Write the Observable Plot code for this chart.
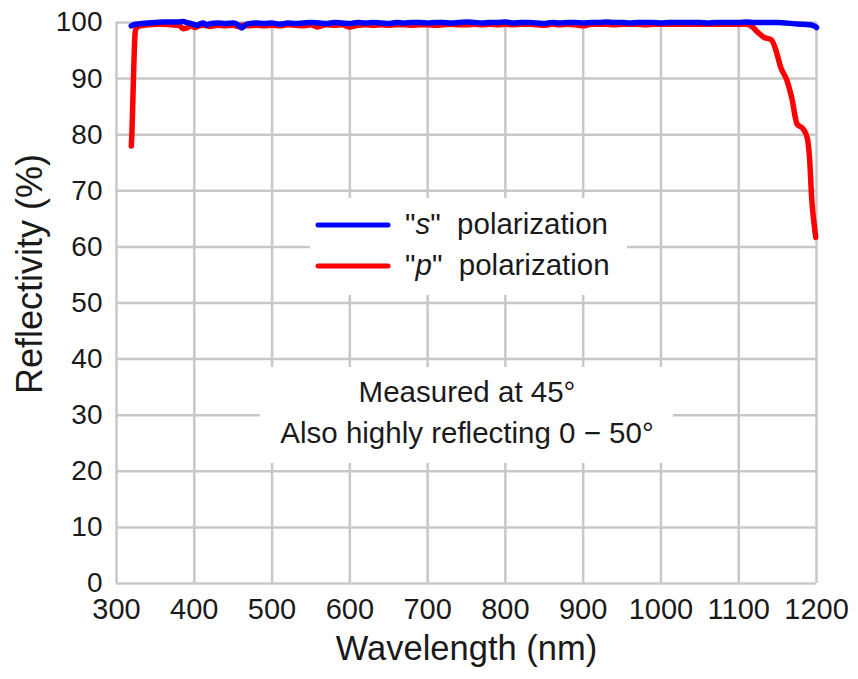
<!DOCTYPE html>
<html>
<head>
<meta charset="utf-8">
<script src="https://cdn.jsdelivr.net/npm/d3@7"></script>
<script src="https://cdn.jsdelivr.net/npm/@observablehq/plot@0.6"></script>
<style>
  html, body { margin: 0; padding: 0; background: #fff; }
  svg { display: block; }
</style>
</head>
<body>
<div id="chart"></div>
<script>
// ---- data ----
const sWavelength = [319,322,326,330,340,350,360,370,380,386,390,396,400,404,408,412,416,420,430,440,450,456,461,466,470,480,490,500,510,520,530,540,550,560,570,580,590,600,610,620,630,640,650,660,670,680,690,700,710,720,730,740,750,760,770,780,790,800,810,820,830,840,850,860,870,880,890,900,910,920,930,940,950,960,970,980,990,1000,1010,1020,1030,1040,1050,1060,1070,1080,1090,1100,1110,1120,1130,1140,1150,1160,1170,1180,1190,1195,1198,1200];
const sReflect = [99.4,99.6,99.7,99.8,99.9,100.0,100.1,100.1,100.1,100.2,100.0,99.8,99.6,99.5,99.8,99.9,99.5,99.8,99.9,99.8,99.9,99.6,99.0,99.6,99.8,99.9,99.8,99.9,99.7,99.9,99.8,99.9,100.0,99.9,99.8,100.0,99.9,99.8,100.0,99.9,100.0,99.9,99.8,100.0,99.9,100.0,100.0,99.9,100.0,100.0,99.9,100.0,100.1,100.0,99.9,100.0,100.0,100.1,99.9,100.0,100.0,99.9,99.8,100.0,99.9,100.0,100.0,99.9,100.0,100.0,100.1,100.0,100.0,99.9,100.0,100.0,100.0,99.9,100.0,100.0,100.0,100.0,100.0,99.9,100.0,100.0,100.0,100.0,100.1,100.0,100.0,100.0,100.0,99.9,99.8,99.7,99.6,99.5,99.3,99.1];

const pWavelength = [319,320,321,322,323,324,325,330,340,350,360,370,380,386,390,396,401,406,412,420,430,440,450,456,460,470,480,490,500,510,520,530,540,550,558,565,570,580,590,600,610,620,630,640,650,660,670,680,690,700,710,720,730,740,750,760,770,780,790,800,810,820,830,840,850,860,870,880,890,900,910,920,930,940,950,960,970,980,990,1000,1010,1020,1030,1040,1050,1060,1070,1080,1090,1100,1110,1117,1124,1132,1142,1148,1154,1162,1168,1175,1183,1188,1191,1194,1197,1199];
const pReflect = [78.0,81.0,86.0,91.0,95.5,98.2,98.9,99.4,99.6,99.7,99.7,99.6,99.5,98.9,99.0,99.4,99.1,99.4,99.5,99.3,99.5,99.4,99.5,99.3,99.5,99.4,99.5,99.4,99.5,99.4,99.6,99.5,99.4,99.6,99.2,99.5,99.6,99.5,99.6,99.2,99.5,99.6,99.5,99.6,99.5,99.6,99.6,99.5,99.6,99.6,99.5,99.6,99.7,99.6,99.6,99.7,99.6,99.7,99.6,99.7,99.6,99.7,99.7,99.6,99.5,99.7,99.6,99.7,99.6,99.4,99.7,99.7,99.7,99.6,99.7,99.7,99.7,99.6,99.7,99.7,99.7,99.7,99.7,99.7,99.7,99.7,99.7,99.7,99.7,99.7,99.7,99.3,98.3,97.4,96.9,95.0,92.0,89.7,86.7,81.9,81.0,79.5,76.0,68.3,64.0,61.7];

const xTicks = [300,400,500,600,700,800,900,1000,1100,1200];
const yTicks = [0,10,20,30,40,50,60,70,80,90,100];

const seriesNames = ["s", "p"];
const seriesColors = ["#0000ff", "#ff0000"];
const annotationLines = ["Measured at 45°", "Also highly reflecting 0 \u2212 50°"];
const xTitle = "Wavelength (nm)";
const yTitle = "Reflectivity (%)";

// ---- build ----
const sData = sWavelength.map((w, i) => ({w, r: sReflect[i]}));
const pData = pWavelength.map((w, i) => ({w, r: pReflect[i]}));

const FONT = "'Liberation Sans', Arial, Helvetica, sans-serif";
const gridStyle = {stroke: "#c8c8c8", strokeOpacity: 1, strokeWidth: 2.5};

const plot = Plot.plot({
  width: 858,
  height: 679,
  marginLeft: 116,
  marginRight: 42,
  marginTop: 22,
  marginBottom: 96,
  style: {fontFamily: FONT, fontSize: "29px", color: "#1a1a1a", background: "#fff", overflow: "visible"},
  x: {domain: [300, 1200]},
  y: {domain: [0, 100]},
  marks: [
    Plot.gridX(xTicks, gridStyle),
    Plot.gridY(yTicks, gridStyle),
    Plot.axisX(xTicks, {tickSize: 0, tickPadding: 15, label: null, fontSize: 29, tickFormat: d => String(d)}),
    Plot.axisY(yTicks, {tickSize: 0, tickPadding: 14, label: null, fontSize: 28}),
    Plot.text([xTitle], {frameAnchor: "bottom", dy: 76, fontSize: 34.5, fill: "#1a1a1a", textAnchor: "middle"}),
    Plot.text([yTitle], {frameAnchor: "left", dx: -86, dy: -29, rotate: -90, fontSize: 36, fill: "#1a1a1a", textAnchor: "middle"}),
    Plot.line(pData, {x: "w", y: "r", stroke: seriesColors[1], strokeWidth: 5.5, curve: "monotone-x", strokeLinecap: "round", strokeLinejoin: "round"}),
    Plot.line(sData, {x: "w", y: "r", stroke: seriesColors[0], strokeWidth: 5.5, curve: "monotone-x", strokeLinecap: "round", strokeLinejoin: "round"})
  ]
});

// legend + annotation (drawn over the grid)
const svg = d3.select(plot);
const layer = svg.append("g").attr("font-family", FONT).attr("fill", "#1a1a1a");

// legend box
const lg = {x: 310, y: 198, w: 317, h: 97, lineX1: 318, lineX2: 388, textX: 405, rowY: [225, 266]};
layer.append("rect").attr("x", lg.x).attr("y", lg.y).attr("width", lg.w).attr("height", lg.h).attr("fill", "#fff");
seriesNames.forEach((name, i) => {
  layer.append("line")
    .attr("x1", lg.lineX1).attr("x2", lg.lineX2)
    .attr("y1", lg.rowY[i]).attr("y2", lg.rowY[i])
    .attr("stroke", seriesColors[i]).attr("stroke-width", 5).attr("stroke-linecap", "round");
  const t = layer.append("text")
    .attr("x", lg.textX).attr("y", lg.rowY[i] + 9)
    .attr("text-anchor", "start")
    .attr("font-size", 29.5).attr("xml:space", "preserve");
  t.append("tspan").text("\"");
  t.append("tspan").attr("font-style", "italic").text(name);
  t.append("tspan").text("\"  polarization");
});

// annotation box
const an = {x: 260, y: 367, w: 413, h: 96, cx: 467, baseY: [402, 443]};
layer.append("rect").attr("x", an.x).attr("y", an.y).attr("width", an.w).attr("height", an.h).attr("fill", "#fff");
annotationLines.forEach((txt, i) => {
  layer.append("text").attr("x", an.cx).attr("y", an.baseY[i])
    .attr("text-anchor", "middle").attr("font-size", 29.5).text(txt);
});

document.getElementById("chart").appendChild(plot);
</script>
</body>
</html>
